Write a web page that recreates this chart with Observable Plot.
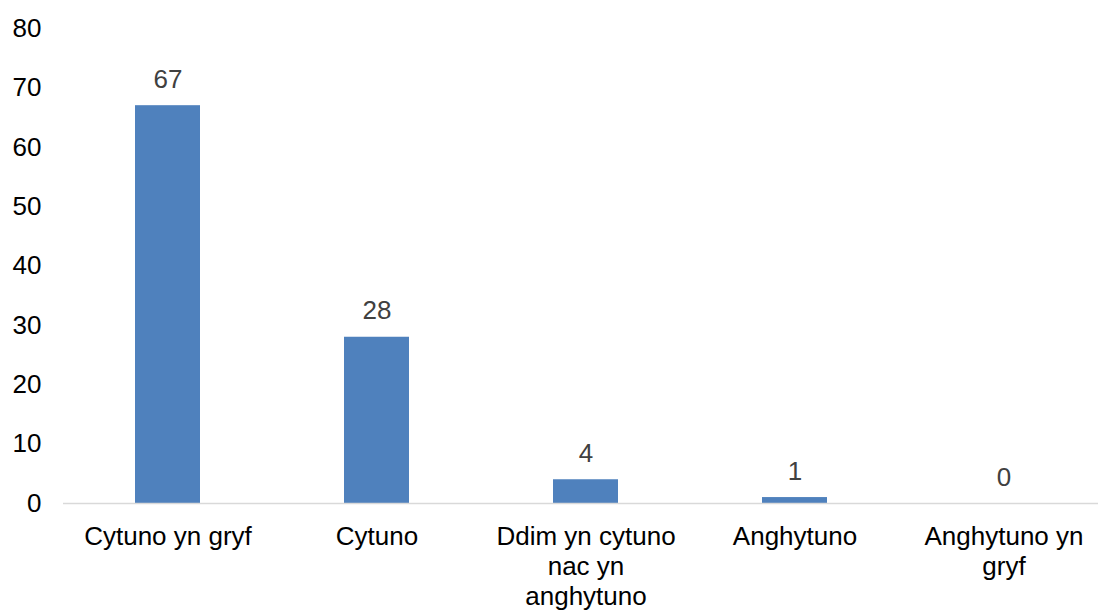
<!DOCTYPE html>
<html><head><meta charset="utf-8">
<script src="https://cdn.jsdelivr.net/npm/d3@7"></script>
<script src="https://cdn.jsdelivr.net/npm/@observablehq/plot@0.6"></script>
<style>
body{margin:0;background:#fff;}
svg{font-family:"Liberation Sans",Arial,sans-serif;}
</style>
</head><body><div id="chart"></div>
<script>
const categories = ["Cytuno yn gryf","Cytuno","Ddim yn cytuno nac yn anghytuno","Anghytuno","Anghytuno yn gryf"];
const tickLabels = ["Cytuno yn gryf","Cytuno","Ddim yn cytuno\nnac yn\nanghytuno","Anghytuno","Anghytuno yn\ngryf"];
const values = [67,28,4,1,0];
const yTicks = [0,10,20,30,40,50,60,70,80];

const data = categories.map((c,i)=>({cat:c, value:values[i]}));
const labelOf = new Map(categories.map((c,i)=>[c,tickLabels[i]]));

const chart = Plot.plot({
  width:1098, height:610,
  marginLeft:63, marginRight:0, marginTop:28, marginBottom:107,
  style:{fontSize:"26px", fontFamily:"'Liberation Sans', Arial, sans-serif", color:"#000", background:"#fff"},
  x:{domain:categories, range:[63,1108], paddingInner:0.69, paddingOuter:0.345, axis:null},
  y:{domain:[0,80], axis:null},
  marks:[
    Plot.barY(data,{x:"cat", y:"value", fill:"#4f81bd"}),
    Plot.ruleY([0],{stroke:"#d9d9d9", strokeWidth:1.5}),
    Plot.axisY({ticks:yTicks, tickSize:0, tickPadding:22, fontSize:26, fill:"#000", label:null}),
    Plot.axisX({tickSize:0, tickPadding:20, fontSize:26, fill:"#000", lineHeight:1.16, tickFormat:d=>labelOf.get(d), label:null}),
    Plot.text(data,{x:"cat", y:"value", text:d=>String(d.value), lineAnchor:"bottom", dy:-18, fontSize:26, fill:"#404040"})
  ]
});
document.getElementById("chart").appendChild(chart);
</script>
</body></html>
